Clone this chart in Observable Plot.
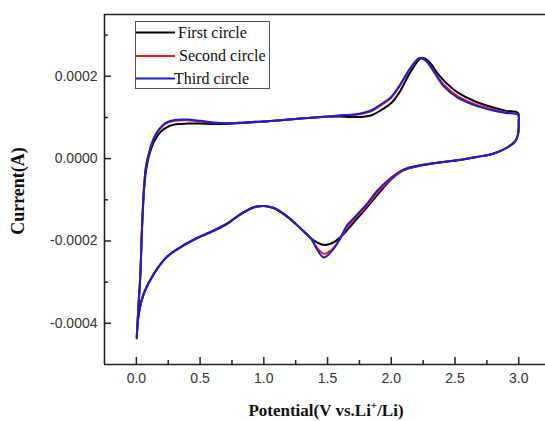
<!DOCTYPE html>
<html><head><meta charset="utf-8">
<script src="https://cdn.jsdelivr.net/npm/d3@7"></script>
<script src="https://cdn.jsdelivr.net/npm/@observablehq/plot@0.6"></script>
<style>
body{margin:0;background:#fff}
#wrap{position:relative;width:545px;height:421px;overflow:hidden}
</style></head><body><div id="wrap"></div>
<script>
const seriesNames = ["First circle", "Second circle", "Third circle"];
const seriesColors = ["#000000", "#ee1c1c", "#1c1cd6"];

// [potential (V), current (A)] along each closed CV loop
const firstCircle = [
  [0.003,-0.000432],[0.018,-0.00035],[0.03,-0.00029],[0.046,-0.00016],[0.062,-0.00007],[0.078,-0.000025],
  [0.1,0.000008],[0.14,0.000042],[0.19,0.000065],[0.25,0.000078],[0.3,0.000083],[0.4,0.000085],
  [0.5,0.000085],[0.6,0.000084],[0.7,0.000084],[0.8,0.000086],[0.9,0.000088],[1.0,0.00009],
  [1.2,0.000095],[1.4,0.0001],[1.6,0.000102],[1.75,0.000101],[1.85,0.000106],[1.92,0.000118],
  [2.0,0.000135],[2.07,0.000164],[2.15,0.00021],[2.24,0.000245],[2.3,0.000234],[2.36,0.000208],
  [2.43,0.000184],[2.52,0.000161],[2.65,0.00014],[2.8,0.000124],[2.9,0.000116],[2.995,0.000111],
  [3.0,0.00009],[2.995,0.00006],[2.975,0.000043],[2.91,0.000027],[2.8,0.000012],[2.67,0.000004],
  [2.52,-0.000004],[2.36,-0.00001],[2.2,-0.000019],[2.1,-0.000028],[2.0,-0.00005],[1.9,-0.000085],
  [1.8,-0.000122],[1.7,-0.000157],[1.62,-0.000185],[1.55,-0.000203],[1.48,-0.00021],[1.42,-0.000204],
  [1.35,-0.000188],[1.29,-0.00017],[1.19,-0.000143],[1.08,-0.000121],[1.0,-0.000115],[0.92,-0.000119],
  [0.82,-0.000135],[0.71,-0.000159],[0.61,-0.000175],[0.48,-0.000193],[0.35,-0.000215],[0.24,-0.000239],
  [0.14,-0.000279],[0.06,-0.000327],[0.02,-0.000374],[0.003,-0.000432]
];
const secondCircle = [
  [0.003,-0.000435],[0.018,-0.00035],[0.03,-0.00029],[0.045,-0.00016],[0.06,-0.00007],[0.075,-0.00002],
  [0.1,0.000014],[0.14,0.00005],[0.18,0.00007],[0.23,0.000085],[0.3,0.000092],[0.4,0.000093],
  [0.5,0.00009],[0.6,0.000087],[0.7,0.000086],[0.8,0.000087],[0.9,0.000089],[1.0,0.00009],
  [1.2,0.000095],[1.4,0.0001],[1.6,0.000105],[1.75,0.000108],[1.85,0.000116],[1.92,0.00013],
  [2.0,0.000148],[2.07,0.000178],[2.15,0.000219],[2.22,0.000244],[2.27,0.000239],[2.33,0.000215],
  [2.41,0.00018],[2.52,0.000152],[2.65,0.000133],[2.8,0.000119],[2.9,0.000112],[2.995,0.000107],
  [3.0,0.00009],[2.995,0.00006],[2.975,0.000043],[2.91,0.000027],[2.8,0.000012],[2.67,0.000004],
  [2.52,-0.000004],[2.36,-0.00001],[2.2,-0.000018],[2.1,-0.000027],[2.0,-0.000048],[1.9,-0.00008],
  [1.8,-0.000117],[1.7,-0.00015],[1.65,-0.000168],[1.6,-0.000194],[1.53,-0.000222],[1.47,-0.000231],
  [1.42,-0.000217],[1.37,-0.000194],[1.29,-0.00017],[1.19,-0.000142],[1.08,-0.00012],[1.0,-0.000115],
  [0.92,-0.000118],[0.82,-0.000134],[0.71,-0.000158],[0.61,-0.000174],[0.48,-0.000192],[0.35,-0.000214],
  [0.24,-0.000238],[0.14,-0.000278],[0.06,-0.000326],[0.02,-0.000374],[0.003,-0.000435]
];
const thirdCircle = [
  [0.003,-0.000437],[0.018,-0.00035],[0.03,-0.00029],[0.045,-0.00016],[0.06,-0.00007],[0.075,-0.00002],
  [0.1,0.000015],[0.14,0.000052],[0.18,0.000072],[0.23,0.000087],[0.3,0.000094],[0.4,0.000095],
  [0.5,0.000092],[0.6,0.000088],[0.7,0.000086],[0.8,0.000087],[0.9,0.000089],[1.0,0.00009],
  [1.2,0.000095],[1.4,0.0001],[1.6,0.000105],[1.75,0.000109],[1.85,0.000118],[1.92,0.000132],
  [2.0,0.00015],[2.07,0.00018],[2.15,0.00022],[2.22,0.000244],[2.27,0.000238],[2.33,0.000213],
  [2.41,0.000176],[2.52,0.000148],[2.65,0.00013],[2.8,0.000117],[2.9,0.000111],[2.995,0.000106],
  [3.0,0.00009],[2.995,0.00006],[2.975,0.000043],[2.91,0.000027],[2.8,0.000012],[2.67,0.000004],
  [2.52,-0.000004],[2.36,-0.00001],[2.2,-0.000018],[2.1,-0.000026],[2.0,-0.000046],[1.89,-0.000078],
  [1.8,-0.000113],[1.71,-0.000143],[1.65,-0.000163],[1.606,-0.00019],[1.53,-0.000226],[1.47,-0.00024],
  [1.42,-0.000222],[1.37,-0.000194],[1.29,-0.00017],[1.19,-0.000142],[1.08,-0.00012],[1.0,-0.000115],
  [0.92,-0.000118],[0.82,-0.000134],[0.71,-0.000158],[0.61,-0.000174],[0.48,-0.000192],[0.35,-0.000214],
  [0.24,-0.000238],[0.14,-0.000278],[0.06,-0.000326],[0.02,-0.000374],[0.003,-0.000437]
];

const xTicks = [0, 0.5, 1.0, 1.5, 2.0, 2.5, 3.0];
const xMinorTicks = [0.25, 0.75, 1.25, 1.75, 2.25, 2.75];
const yTicks = [-0.0004, -0.0002, 0, 0.0002];
const yMinorTicks = [-0.0003, -0.0001, 0.0001, 0.0003];
const xDomain = [-0.25, 3.21];
const yDomain = [-0.0005, 0.00035];
const xLabel = ["Potential(V vs.Li", "+", "/Li)"];
const yLabel = "Current(A)";

const seriesData = [firstCircle, secondCircle, thirdCircle];
const rows = seriesData.flatMap((s, i) => s.map(([x, y]) => ({x, y, series: seriesNames[i]})));

const W = 545, H = 421, mL = 104, mR = 0, mT = 14, mB = 57;
const plotW = W - mL - mR, plotH = H - mT - mB;
// tick lengths in pixels, converted to data units of each scale
const majorLen = 7, minorLen = 4;
const xPerPx = (xDomain[1] - xDomain[0]) / plotW;
const yPerPx = (yDomain[1] - yDomain[0]) / plotH;
const frameColor = "#222";
const tickStyle = {stroke: frameColor, strokeWidth: 1.5};
const plot = Plot.plot({
  width: W, height: H,
  marginLeft: mL, marginRight: mR, marginTop: mT, marginBottom: mB,
  x: {domain: xDomain},
  y: {domain: yDomain},
  color: {domain: seriesNames, range: seriesColors},
  style: {fontFamily: "'Liberation Sans', Arial, sans-serif", fontSize: "14px", color: "#333", background: "#fff"},
  marks: [
    Plot.axisX(xTicks, {tickSize: 0, tickPadding: 9, tickFormat: d => d.toFixed(1), label: null}),
    Plot.axisY(yTicks, {tickSize: 0, tickPadding: 7, tickFormat: d => d.toFixed(4), label: null}),
    Plot.ruleX(xTicks, {x: d => d, y1: yDomain[0], y2: yDomain[0] + majorLen * yPerPx, ...tickStyle}),
    Plot.ruleX(xMinorTicks, {x: d => d, y1: yDomain[0], y2: yDomain[0] + minorLen * yPerPx, ...tickStyle}),
    Plot.ruleY(yTicks, {y: d => d, x1: xDomain[0], x2: xDomain[0] + majorLen * xPerPx, ...tickStyle}),
    Plot.ruleY(yMinorTicks, {y: d => d, x1: xDomain[0], x2: xDomain[0] + minorLen * xPerPx, ...tickStyle}),
    Plot.ruleX([xDomain[0]], {stroke: frameColor, strokeWidth: 1.6}),
    Plot.ruleY([yDomain[0]], {stroke: frameColor, strokeWidth: 1.6}),
    Plot.ruleY([yDomain[1]], {stroke: frameColor, strokeWidth: 1.6}),
    Plot.line(rows, {x: "x", y: "y", z: "series", stroke: "series", strokeWidth: 2, curve: "catmull-rom"})
  ]
});
document.getElementById("wrap").appendChild(plot);

const svg = d3.select(plot);
const serif = "'Liberation Serif', 'Times New Roman', serif";
// axis titles
const xt = svg.append("text").attr("x", 326).attr("y", 416).attr("text-anchor", "middle")
  .attr("font-family", serif).attr("font-weight", "bold").attr("font-size", 17).attr("fill", "#111");
xt.append("tspan").text(xLabel[0]);
xt.append("tspan").attr("dy", -7).attr("font-size", 11).text(xLabel[1]);
xt.append("tspan").attr("dy", 7).text(xLabel[2]);
svg.append("text").attr("transform", "translate(24,191) rotate(-90)").attr("text-anchor", "middle")
  .attr("font-family", serif).attr("font-weight", "bold").attr("font-size", 18).attr("fill", "#111").text(yLabel);

// legend
const lg = svg.append("g");
lg.append("rect").attr("x", 135.5).attr("y", 21.5).attr("width", 134).attr("height", 67)
  .attr("fill", "#fff").attr("stroke", "#555").attr("stroke-width", 1);
const rowY = [32.5, 56, 78.5];
const textX = [178, 179, 174];
seriesNames.forEach((n, i) => {
  lg.append("line").attr("x1", 136).attr("x2", 175).attr("y1", rowY[i]).attr("y2", rowY[i])
    .attr("stroke", seriesColors[i]).attr("stroke-width", 2);
  lg.append("text").attr("x", textX[i]).attr("y", rowY[i] + 5).attr("text-anchor", "start")
    .attr("font-family", serif).attr("font-size", 16).attr("fill", "#111").text(n);
});
</script></body></html>
